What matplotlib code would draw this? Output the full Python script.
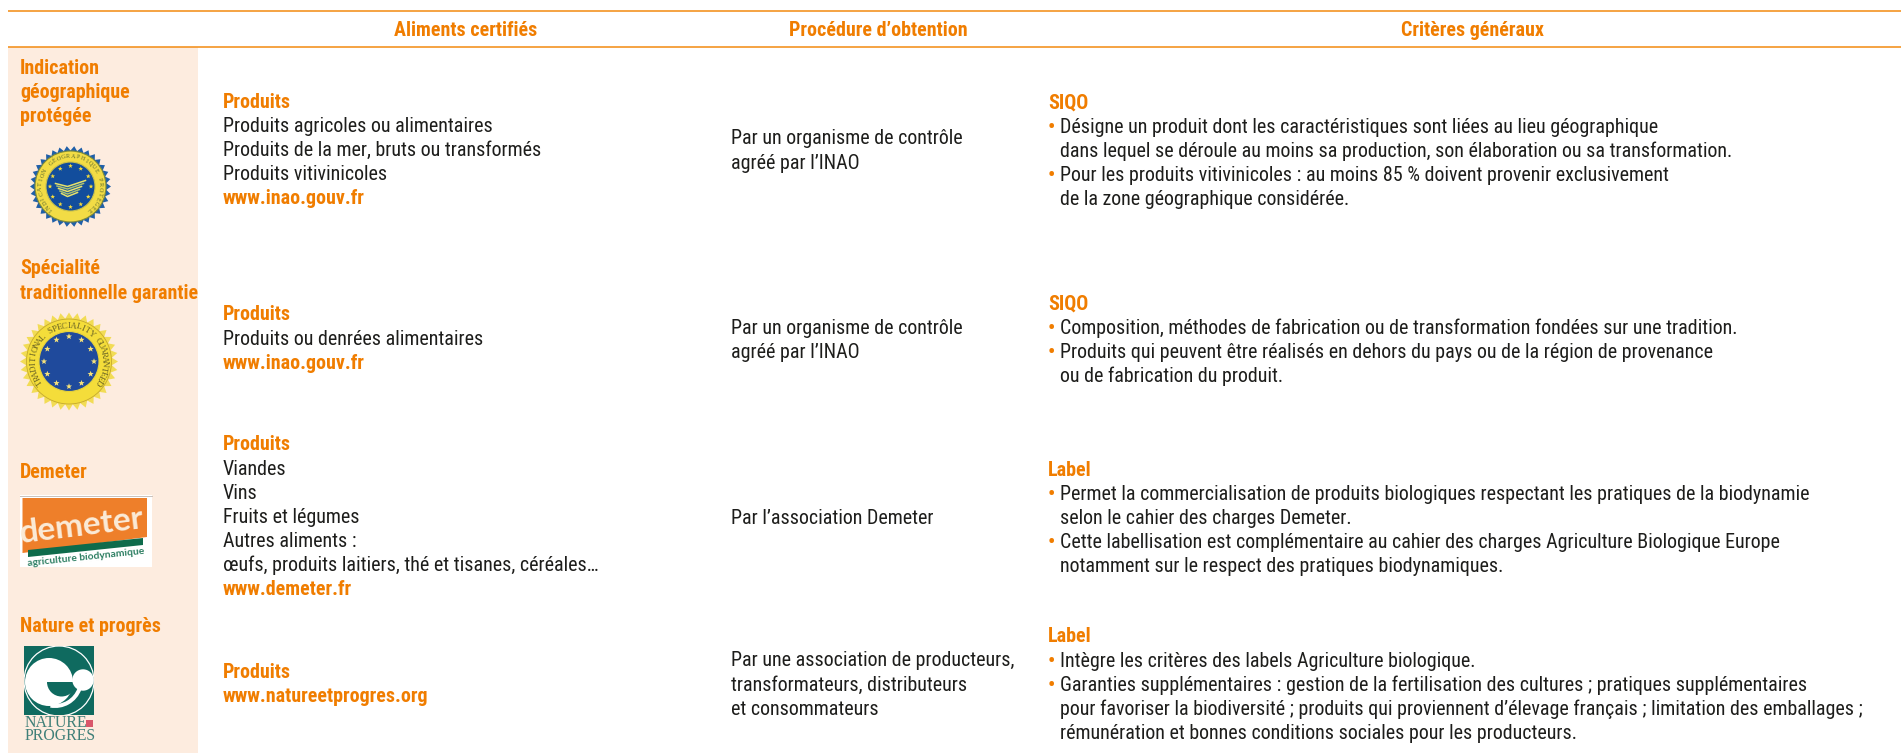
import math
import matplotlib
matplotlib.use("Agg")
import matplotlib.pyplot as plt
from matplotlib import font_manager as fm
from matplotlib.patches import Rectangle, Circle, Polygon, Wedge

ORANGE = "#F07D00"
LINE = "#F39323"
SIDE = "#FDECDF"
BLACK = "#1D1D1B"

def font_file(name):
    for f in fm.fontManager.ttflist:
        if f.fname.endswith(name):
            return f.fname
    return None

REG = fm.FontProperties(fname=font_file("RobotoCondensed-Regular.ttf"), size=14.4)
BOLD = fm.FontProperties(fname=font_file("RobotoCondensed-Bold.ttf"), size=14.4)

headers = ["Aliments certifiés", "Procédure d’obtention", "Critères généraux"]
sides = [["Indication", "géographique", "protégée"],
         ["Spécialité", "traditionnelle garantie"],
         ["Demeter"],
         ["Nature et progrès"]]
col1 = [[("Produits", 1), ("Produits agricoles ou alimentaires", 0), ("Produits de la mer, bruts ou transformés", 0),
         ("Produits vitivinicoles", 0), ("www.inao.gouv.fr", 1)],
        [("Produits", 1), ("Produits ou denrées alimentaires", 0), ("www.inao.gouv.fr", 1)],
        [("Produits", 1), ("Viandes", 0), ("Vins", 0), ("Fruits et légumes", 0), ("Autres aliments :", 0),
         ("œufs, produits laitiers, thé et tisanes, céréales…", 0), ("www.demeter.fr", 1)],
        [("Produits", 1), ("www.natureetprogres.org", 1)]]
col2 = [["Par un organisme de contrôle", "agréé par l’INAO"],
        ["Par un organisme de contrôle", "agréé par l’INAO"],
        ["Par l’association Demeter"],
        ["Par une association de producteurs,", "transformateurs, distributeurs", "et consommateurs"]]
col3 = [[("SIQO", "h"),
         ("Désigne un produit dont les caractéristiques sont liées au lieu géographique", "b"),
         ("dans lequel se déroule au moins sa production, son élaboration ou sa transformation.", "c"),
         ("Pour les produits vitivinicoles : au moins 85 % doivent provenir exclusivement", "b"),
         ("de la zone géographique considérée.", "c")],
        [("SIQO", "h"),
         ("Composition, méthodes de fabrication ou de transformation fondées sur une tradition.", "b"),
         ("Produits qui peuvent être réalisés en dehors du pays ou de la région de provenance", "b"),
         ("ou de fabrication du produit.", "c")],
        [("Label", "h"),
         ("Permet la commercialisation de produits biologiques respectant les pratiques de la biodynamie", "b"),
         ("selon le cahier des charges Demeter.", "c"),
         ("Cette labellisation est complémentaire au cahier des charges Agriculture Biologique Europe", "b"),
         ("notamment sur le respect des pratiques biodynamiques.", "c")],
        [("Label", "h"),
         ("Intègre les critères des labels Agriculture biologique.", "b"),
         ("Garanties supplémentaires : gestion de la fertilisation des cultures ; pratiques supplémentaires", "b"),
         ("pour favoriser la biodiversité ; produits qui proviennent d’élevage français ; limitation des emballages ;", "c"),
         ("rémunération et bonnes conditions sociales pour les producteurs.", "c")]]
side_y = [66, 267, 471, 625]
col1_y = [100, 313, 443, 670]
col2_y = [137, 326, 516, 659]
col3_y = [101, 302, 468, 635]
STEP = 24.1

fig = plt.figure(figsize=(19.01, 7.54), dpi=100)
ax = fig.add_axes([0, 0, 1, 1])
ax.set_xlim(0, 1901)
ax.set_ylim(754, 0)
ax.axis("off")

def T(x, y, s, bold=False, color=BLACK, ha="left"):
    ax.text(x, y, s, fontproperties=BOLD if bold else REG, color=color, ha=ha, va="center_baseline")

ax.add_patch(Rectangle((8, 47), 190, 706, fc=SIDE, ec="none", zorder=0))
ax.plot([8, 1901], [10.5, 10.5], color=LINE, lw=1.2, solid_capstyle="butt")
ax.plot([8, 1901], [46.5, 46.5], color=LINE, lw=1.2, solid_capstyle="butt")

for x, h in zip([466, 878, 1472], headers):
    T(x, 29, h, True, ORANGE, "center")
for y, lines in zip(side_y, sides):
    for i, s in enumerate(lines):
        T(20, y + i * STEP, s, True, ORANGE)
for y, lines in zip(col1_y, col1):
    for i, (s, o) in enumerate(lines):
        T(223, y + i * STEP, s, bool(o), ORANGE if o else BLACK)
for y, lines in zip(col2_y, col2):
    for i, s in enumerate(lines):
        T(731, y + i * STEP, s)
for y, lines in zip(col3_y, col3):
    for i, (s, k) in enumerate(lines):
        yy = y + i * STEP
        if k == "h":
            T(1048, yy, s, True, ORANGE)
        else:
            if k == "b":
                T(1048, yy, "•", True, ORANGE)
            T(1060, yy, s)

def spiky(cx, cy, r1, r2, n, color, z=2):
    pts = []
    for i in range(2 * n):
        r = r1 if i % 2 == 0 else r2
        a = math.pi * i / n
        pts.append((cx + r * math.cos(a), cy + r * math.sin(a)))
    ax.add_patch(Polygon(pts, closed=True, fc=color, ec="none", zorder=z))

def star(cx, cy, r, color, z=6):
    pts = []
    for i in range(10):
        rr = r if i % 2 == 0 else r * 0.42
        a = -math.pi / 2 + math.pi * i / 5
        pts.append((cx + rr * math.cos(a), cy + rr * math.sin(a)))
    ax.add_patch(Polygon(pts, closed=True, fc=color, ec="none", zorder=z))

def ring_text(cx, cy, r, s, start, span, color, size):
    n = len(s)
    for i, ch in enumerate(s):
        a = math.radians(start + span * i / (n - 1))
        ax.text(cx + r * math.sin(a), cy - r * math.cos(a), ch, rotation=-math.degrees(a),
                rotation_mode="anchor", ha="center", va="center", fontsize=size,
                family="Liberation Serif", color=color, zorder=7)

# IGP seal
cx, cy = 70.5, 186.5
spiky(cx, cy, 40.5, 36, 34, "#1F5FA8")
ax.add_patch(Circle((cx, cy), 35.5, fc="#F2DC45", ec="#7F8A3A", lw=0.8, zorder=3))
ax.add_patch(Circle((cx, cy), 24.5, fc="#124D9C", ec="#C9C04A", lw=0.8, zorder=4))
for i in range(12):
    a = math.radians(30 * i)
    star(cx + 20.5 * math.sin(a), cy - 20.5 * math.cos(a), 2.4, "#F6DC3C")
for i, col in enumerate(["#E8E26A", "#A9BF72", "#E8E26A", "#A9BF72", "#E8E26A"]):
    ax.plot([cx - 15 + i * 1.5, cx - 3, cx + 15 - i * 2],
            [cy - 3 + i * 2.5, cy + i * 2.5, cy - 6 + i * 3], color=col, lw=1.1, zorder=5)
ring_text(cx, cy, 30, "INDICATION GÉOGRAPHIQUE PROTÉGÉE", -140, 280, "#5D6B2E", 4.4)

# TSG seal
cx, cy = 69, 361.5
spiky(cx, cy, 49, 43, 36, "#F2DC55")
ax.add_patch(Circle((cx, cy), 42.5, fc="#F4DD3A", ec="#C5A92E", lw=0.6, zorder=3))
ax.add_patch(Circle((cx, cy), 30, fc="#1F4A9C", ec="#E6D23C", lw=0.8, zorder=4))
for i in range(12):
    a = math.radians(30 * i)
    star(cx + 25 * math.sin(a), cy - 25 * math.cos(a), 3.2, "#F6E27A")
ring_text(cx, cy, 35.5, "TRADITIONAL SPECIALITY GUARANTEED", -125, 250, "#6B6425", 6.4)

# Demeter
ax.add_patch(Rectangle((20, 495), 132, 72, fc="white", ec="none", zorder=2))
ax.plot([20, 152], [495.5, 495.5], color="#C9C2BC", lw=0.7, zorder=3)
ax.add_patch(Polygon([(22.5, 498), (147, 498), (147, 537), (22.5, 553)], closed=True, fc="#EE7F2A", ec="none", zorder=3))
ax.add_patch(Polygon([(28, 550), (143, 538), (143, 545), (28, 557)], closed=True, fc="#0E6B4B", ec="none", zorder=4))
ax.text(82, 526, "demeter", color="#FBEBD8", fontsize=24, family="Lato", weight="bold",
        rotation=7, ha="center", va="center", zorder=5)
ax.text(86, 557, "agriculture biodynamique", color="#2D7F62", fontsize=7.4, family="Lato", weight="bold",
        rotation=6, ha="center", va="center", zorder=5)

# Nature et progrès
TEAL = "#0F6A5F"
box = Rectangle((24, 646), 70, 69, fc=TEAL, ec="none", zorder=2)
ax.add_patch(box)
ring = Circle((59, 681), 35, fc="none", ec="white", lw=0.9, zorder=3)
ax.add_patch(ring)
ring.set_clip_path(box)
ax.add_patch(Circle((49, 682), 24, fc="white", ec="none", zorder=3))
ax.add_patch(Wedge((55, 680), 28, 20, 100, width=4, fc="white", ec="none", zorder=3))
ax.add_patch(Wedge((61.5, 682), 14.5, 0, 180, fc=TEAL, ec="none", zorder=4))
ax.add_patch(Circle((83, 680), 10.7, fc="white", ec="none", zorder=6))
ax.text(25, 723, "NATURE", fontsize=11.4, family="Liberation Serif", color="#3F7F78", va="center", zorder=3)
ax.add_patch(Rectangle((86, 720), 7, 6.5, fc="#D9576B", ec="none", zorder=3))
ax.text(25, 735.5, "PROGRES", fontsize=11.4, family="Liberation Serif", color="#3F7F78", va="center", zorder=3)

fig.savefig("out.png", dpi=100, facecolor="white")
